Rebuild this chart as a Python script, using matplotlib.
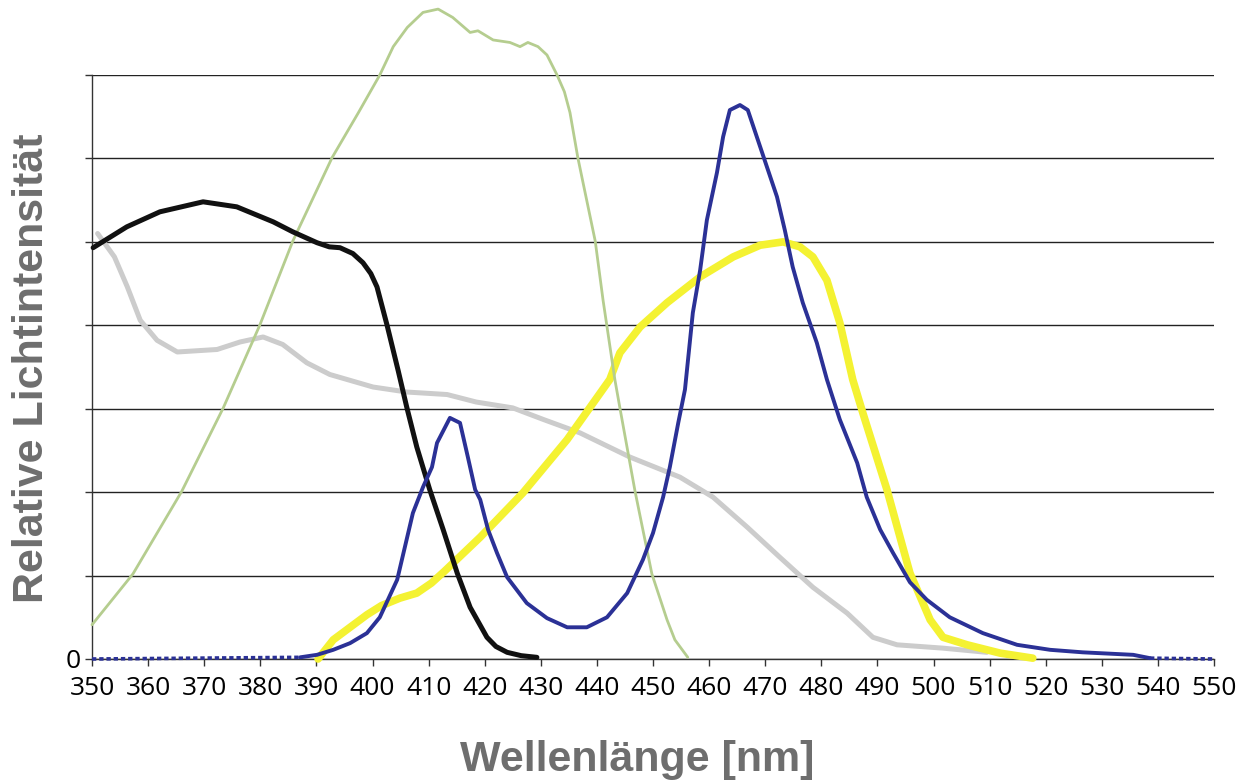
import matplotlib
matplotlib.use('Agg')
import matplotlib.pyplot as plt
import numpy as np

# wavelength [nm] / relative intensity (1 unit = 1 grid step)
green_nm = [350.0, 357.3, 366.0, 373.4, 379.9, 385.8, 392.8, 397.5, 401.3, 403.7, 406.2, 409.0,
            411.7, 414.3, 417.4, 418.8, 421.5, 424.5, 426.3, 427.7, 429.5, 431.1, 432.9, 434.2,
            435.2, 436.6, 437.9, 439.7, 441.1, 443.2, 444.1, 446.8, 449.8, 452.5, 453.9, 456.2]
green_val = [0.41, 1.02, 2.01, 3.01, 4.00, 5.01, 6.01, 6.55, 7.00, 7.34, 7.57, 7.75,
             7.79, 7.69, 7.51, 7.53, 7.42, 7.39, 7.34, 7.39, 7.34, 7.24, 7.00, 6.80,
             6.55, 6.01, 5.59, 5.01, 4.30, 3.35, 3.01, 2.01, 1.02, 0.47, 0.23, 0.02]

black_nm = [350.2, 356.2, 362.1, 369.8, 375.8, 382.3, 385.8, 390.1, 392.3, 394.2, 396.5, 398.3,
            399.7, 400.8, 402.6, 404.6, 406.1, 407.9, 410.2, 412.6, 415.1, 417.4, 420.4, 422.0,
            424.0, 426.5, 429.3]
black_val = [4.93, 5.18, 5.36, 5.48, 5.42, 5.24, 5.12, 4.99, 4.94, 4.93, 4.86, 4.75,
             4.62, 4.46, 4.00, 3.45, 3.02, 2.54, 2.03, 1.55, 1.03, 0.62, 0.26, 0.15,
             0.08, 0.04, 0.02]

gray_nm = [351.0, 354.0, 356.3, 358.6, 361.6, 365.2, 372.3, 376.4, 380.5, 384.0, 388.3, 392.4,
           400.1, 406.1, 413.3, 418.5, 425.0, 430.5, 437.0, 445.9, 454.8, 460.7, 466.8, 472.6,
           478.5, 484.6, 489.2, 493.5, 501.7, 509.5]
gray_val = [5.10, 4.82, 4.46, 4.06, 3.82, 3.68, 3.71, 3.80, 3.86, 3.77, 3.55, 3.41,
            3.26, 3.20, 3.17, 3.08, 3.01, 2.87, 2.71, 2.42, 2.18, 1.94, 1.58, 1.22,
            0.86, 0.55, 0.26, 0.17, 0.13, 0.08]

blue_nm = [350.0, 387.1, 390.1, 393.0, 396.0, 399.0, 401.3, 404.4, 407.2, 409.0, 410.6, 411.5,
           413.8, 415.6, 417.0, 418.3, 419.2, 420.6, 422.2, 424.0, 427.5, 431.1, 434.7, 438.2,
           441.8, 445.4, 448.2, 450.0, 451.8, 453.0, 454.5, 455.7, 457.1, 458.4, 459.6, 461.4,
           462.5, 463.7, 465.5, 466.9, 468.5, 470.3, 472.1, 473.5, 474.9, 476.7, 479.2, 481.0,
           483.3, 486.4, 488.1, 490.5, 492.8, 495.8, 498.8, 502.9, 508.8, 514.9, 520.8, 526.6,
           535.6, 538.6, 550.0]
blue_val = [0.0, 0.02, 0.05, 0.11, 0.19, 0.31, 0.50, 0.95, 1.75, 2.06, 2.30, 2.59,
            2.89, 2.83, 2.42, 2.03, 1.91, 1.55, 1.27, 0.98, 0.67, 0.49, 0.38, 0.38,
            0.50, 0.79, 1.19, 1.51, 1.94, 2.30, 2.83, 3.23, 4.15, 4.66, 5.26, 5.83,
            6.26, 6.58, 6.64, 6.58, 6.26, 5.90, 5.54, 5.14, 4.70, 4.27, 3.79, 3.35,
            2.87, 2.35, 1.94, 1.55, 1.27, 0.92, 0.71, 0.50, 0.31, 0.17, 0.11, 0.08,
            0.05, 0.01, 0.0]

yellow_nm = [390.3, 393.0, 396.0, 399.0, 401.6, 404.9, 407.9, 410.5, 412.8, 419.2, 426.8, 434.7,
             442.3, 444.1, 447.7, 452.5, 458.4, 464.3, 469.1, 473.2, 476.2, 478.5, 481.0, 483.3,
             485.6, 487.4, 491.7, 495.8, 497.1, 499.4, 501.7, 506.0, 511.9, 517.7]
yellow_val = [0.0, 0.23, 0.38, 0.53, 0.64, 0.73, 0.79, 0.91, 1.05, 1.46, 1.99, 2.63,
              3.35, 3.67, 3.98, 4.27, 4.58, 4.82, 4.96, 5.00, 4.94, 4.82, 4.54, 4.03,
              3.35, 2.95, 2.03, 1.03, 0.83, 0.47, 0.26, 0.17, 0.07, 0.01]

x_ticks = list(range(350, 551, 10))
y_ticks = list(range(0, 8))
y_ticklabels = ['0'] + [''] * 7

fig = plt.figure(figsize=(12.49, 7.81), dpi=100)
ax = fig.add_axes([92 / 1249, 1 - 659 / 781, (1214 - 92) / 1249, (659 - 75) / 781])

ax.set_xlim(350, 550)
ax.set_ylim(0, 7)

# curves (clip off: the green one goes above the top gridline)
style = dict(clip_on=False, solid_joinstyle='round', solid_capstyle='round')
ax.plot(gray_nm, gray_val, color='#cccccc', lw=3.6, zorder=3, **style)
ax.plot(yellow_nm, yellow_val, color='#f4f232', lw=5.5, zorder=4, **style)
ax.plot(green_nm, green_val, color='#b5cd8f', lw=2.0, zorder=5, **style)
ax.plot(black_nm, black_val, color='#111111', lw=3.6, zorder=6, **style)

blue_nm = np.array(blue_nm)
blue_val = np.array(blue_val)
inner = (blue_nm >= 387) & (blue_nm <= 539)
ax.plot(blue_nm[inner], blue_val[inner], color='#2b3196', lw=2.8, zorder=7, **style)
ax.plot(blue_nm[:2], blue_val[:2], color='#2b3196', lw=2.6, ls=(0, (1.2, 0.8)), clip_on=False, zorder=7)
ax.plot(blue_nm[-2:], blue_val[-2:], color='#2b3196', lw=2.6, ls=(0, (1.2, 0.8)), clip_on=False, zorder=7)

# axes look
ax.set_xticks(x_ticks)
ax.set_yticks(y_ticks)
ax.set_yticklabels(y_ticklabels)
ax.grid(axis='y', color='#222222', lw=1.0)
ax.set_axisbelow(True)
for side in ['top', 'right']:
    ax.spines[side].set_visible(False)
ax.spines['left'].set_color('#333333')
ax.spines['bottom'].set_color('#333333')
ax.spines['left'].set_linewidth(1.0)
ax.spines['bottom'].set_linewidth(1.0)
ax.tick_params(axis='x', direction='out', length=5, width=1, color='#333333', pad=7,
               labelsize=19, labelcolor='black')
ax.tick_params(axis='y', direction='out', length=5, width=1, color='#333333', pad=3,
               labelsize=19, labelcolor='black')
for lab in ax.get_xticklabels() + ax.get_yticklabels():
    lab.set_fontfamily('Open Sans')

fig.text(32 / 1249, 1 - 368 / 781, 'Relative Lichtintensität', rotation=90,
         ha='center', va='center', fontsize=31, fontweight='bold',
         color='#6e6e6e', family='Liberation Sans')
fig.text(637 / 1249, 1 - 760 / 781, 'Wellenlänge [nm]', ha='center', va='center',
         fontsize=31, fontweight='bold', color='#6e6e6e', family='Liberation Sans')

fig.savefig('out.png', dpi=100)
